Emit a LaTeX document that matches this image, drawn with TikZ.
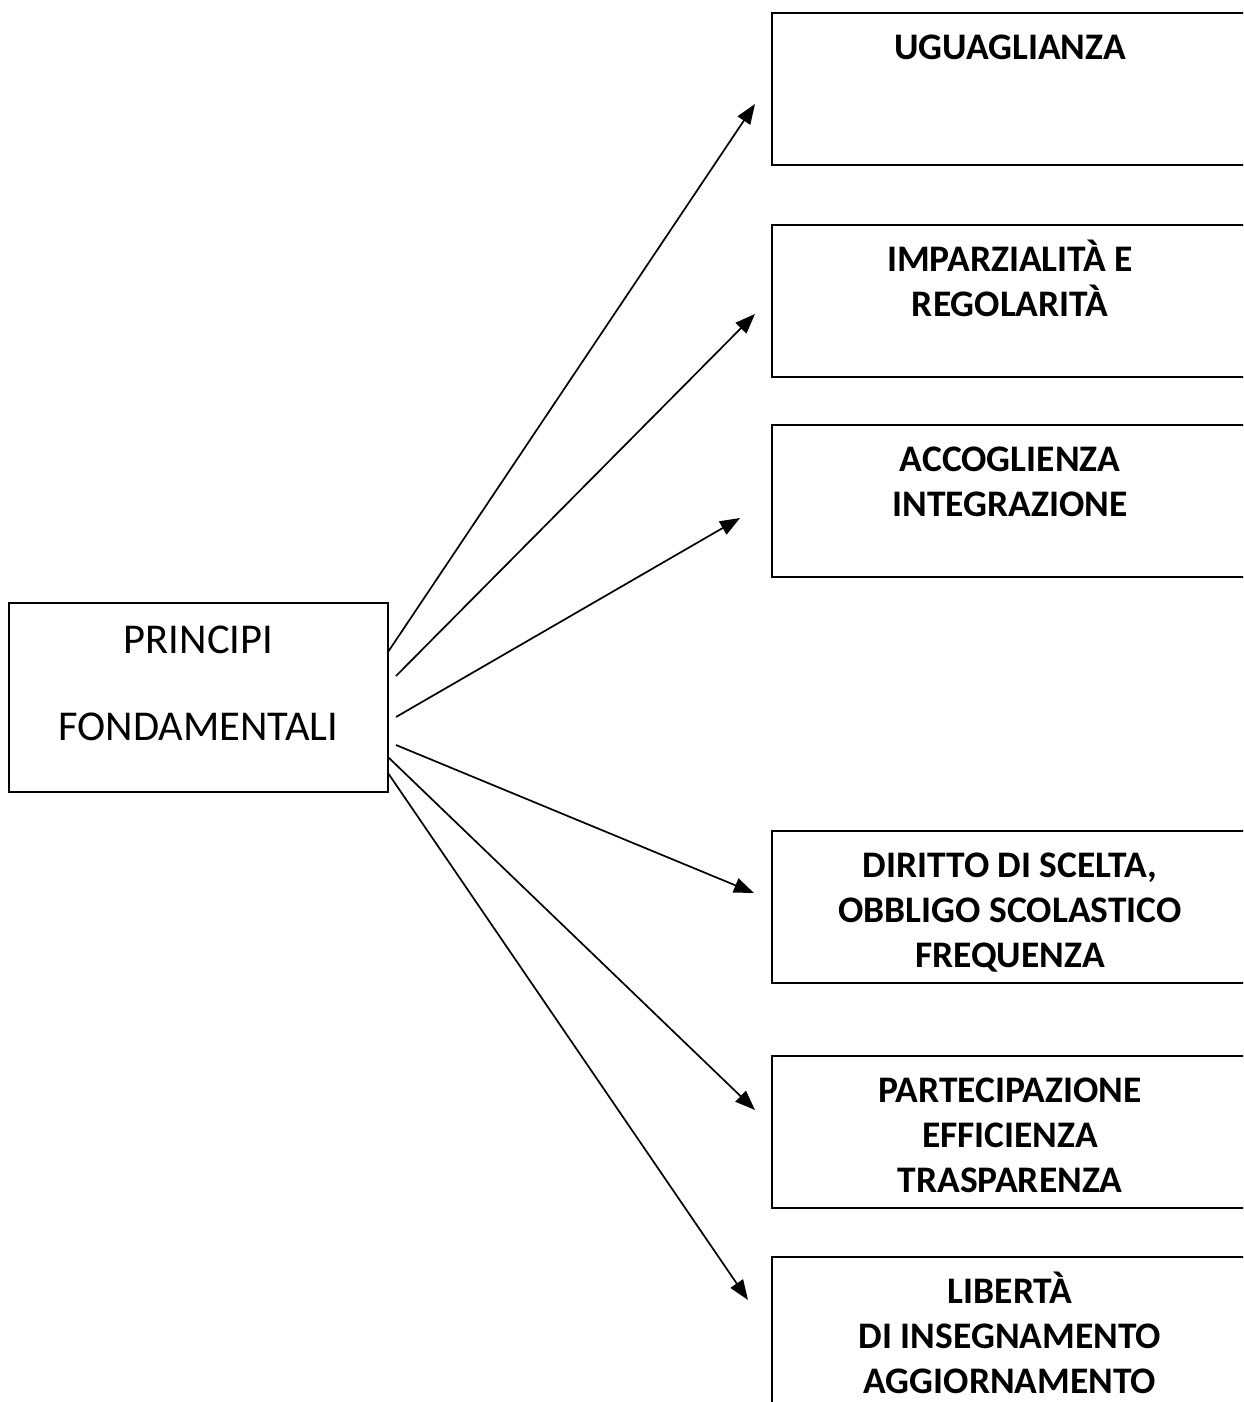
\documentclass[tikz,border=0pt]{standalone}
\usepackage{fontspec}
\setmainfont{Carlito}
\usetikzlibrary{arrows.meta}
\begin{document}
\begin{tikzpicture}[x=1pt,y=-1pt,
  box/.style={draw=black,line width=2pt,rectangle,inner sep=0pt},
  rbox/.style={box,minimum width=490pt,minimum height=152pt,anchor=north west},
  btext/.style={font=\fontsize{37.5}{45}\selectfont\bfseries,align=center,anchor=north,inner sep=0pt},
  mtext/.style={font=\fontsize{42.5}{50}\selectfont,anchor=base,inner sep=0pt},
  conn/.style={line width=1.7pt,-{Triangle[length=20pt,width=15pt]}}]
\useasboundingbox (0,0) rectangle (1243,1402);
\clip (0,0) rectangle (1243,1402);
% main box
\node[box,minimum width=379pt,minimum height=189pt] (main) at (198.5,697.5) {};
\node[mtext] (t1) at (198.5,653) {PRINCIPI};
\node[mtext] (t2) at (198.5,740) {FONDAMENTALI};
% right boxes
\node[rbox] (b1) at (771,12) {};
\node[rbox] (b2) at (771,224) {};
\node[rbox] (b3) at (771,424) {};
\node[rbox] (b4) at (771,830) {};
\node[rbox] (b5) at (771,1055) {};
\node[rbox,minimum height=200pt] (b6) at (771,1256) {};
\node[btext] (l1) at (1010,27.5) {\strut UGUAGLIANZA};
\node[btext] (l2) at (1010,239.5) {\strut IMPARZIALITÀ E\\REGOLARITÀ};
\node[btext] (l3) at (1010,439.5) {\strut ACCOGLIENZA\\INTEGRAZIONE};
\node[btext] (l4) at (1010,845.5) {\strut DIRITTO DI SCELTA,\\OBBLIGO SCOLASTICO\\FREQUENZA};
\node[btext] (l5) at (1010,1070.5) {\strut PARTECIPAZIONE\\EFFICIENZA\\TRASPARENZA};
\node[btext] (l6) at (1010,1271.5) {\strut LIBERTÀ\\DI INSEGNAMENTO\\AGGIORNAMENTO};
% connector endpoints
\coordinate (s1) at (388,652);
\coordinate (s2) at (396,676);
\coordinate (s3) at (396,717);
\coordinate (s4) at (396,745);
\coordinate (s5) at (388,757);
\coordinate (s6) at (388,773);
\coordinate (e1) at (755,104);
\coordinate (e2) at (755,314);
\coordinate (e3) at (740,518);
\coordinate (e4) at (754,893);
\coordinate (e5) at (755,1110);
\coordinate (e6) at (748,1300);
\draw[conn] (s1) -- (e1);
\draw[conn] (s2) -- (e2);
\draw[conn] (s3) -- (e3);
\draw[conn] (s4) -- (e4);
\draw[conn] (s5) -- (e5);
\draw[conn] (s6) -- (e6);
\end{tikzpicture}
\end{document}
